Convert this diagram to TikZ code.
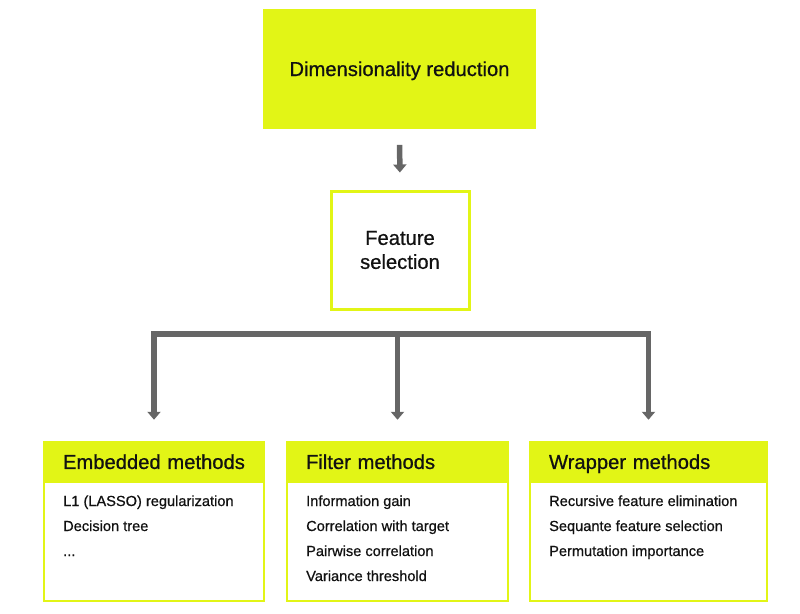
\documentclass[tikz,border=0pt]{standalone}
\usepackage{fontspec}
\setmainfont{Liberation Sans}[RawFeature={embolden=0.7}]
\usetikzlibrary{arrows.meta,positioning}
\definecolor{lime}{HTML}{E2F516}
\definecolor{linkgray}{HTML}{666666}
\definecolor{ink}{HTML}{111111}
\tikzset{
  bigtext/.style={font=\fontsize{20.2}{24}\selectfont,text=ink},
  itemtext/.style={font=\fontsize{14.6}{25}\selectfont,text=ink,anchor=base west,inner sep=0pt},
  link/.style={draw=linkgray,line width=5.5pt,line cap=rect,-{Triangle[width=13pt,length=8pt]}},
  topbox/.style={fill=lime,minimum width=273pt,minimum height=120pt,bigtext,text height=14pt,text depth=0pt},
  featbox/.style={draw=lime,line width=3pt,minimum width=138pt,minimum height=118pt,bigtext,align=center},
  card/.style={draw=lime,line width=2.5pt,minimum height=159pt,inner sep=0pt},
  cardhead/.style={fill=lime,anchor=north,minimum height=42pt,inner xsep=20pt,inner ysep=0pt,
    text height=14pt,text depth=0pt,align=left,bigtext}
}
\begin{document}
\begin{tikzpicture}[x=1pt,y=-1pt]
  \useasboundingbox (0,0) rectangle (800,613);
  % top of the tree
  \node[topbox] (dim) at (399.5,69) {Dimensionality reduction};
  \node[featbox] (feat) at (400,250) {Feature\\selection};
  % the three method cards
  \node[card,minimum width=220pt] (emb) at (154,521.5) {};
  \node[card,minimum width=221pt] (filt) at (397.5,521.5) {};
  \node[card,minimum width=237pt] (wrp) at (648.5,521.5) {};
  \node[cardhead,text width=182pt] (embH) at (emb.north) {Embedded methods};
  \node[cardhead,text width=183pt] (filtH) at (filt.north) {Filter methods};
  \node[cardhead,text width=199pt] (wrpH) at (wrp.north) {Wrapper methods};
  \node[itemtext] (emb1) at (63,506) {L1 (LASSO) regularization};
  \node[itemtext] (emb2) at (63,531) {Decision tree};
  \node[itemtext] (emb3) at (63,556) {...};
  \node[itemtext] (filt1) at (306,506) {Information gain};
  \node[itemtext] (filt2) at (306,531) {Correlation with target};
  \node[itemtext] (filt3) at (306,556) {Pairwise correlation};
  \node[itemtext] (filt4) at (306,581) {Variance threshold};
  \node[itemtext] (wrp1) at (549,506) {Recursive feature elimination};
  \node[itemtext] (wrp2) at (549,531) {Sequante feature selection};
  \node[itemtext] (wrp3) at (549,556) {Permutation importance};
  % connectors
  \coordinate (split) at (400,334);
  \begin{scope}[shorten >=21pt]
    \draw[link] (dim.south) -- (feat.north) [shorten <=18.5pt,shorten >=17pt];
    \draw[link] (wrp.north |- split) -- (emb.north |- split) -- (emb.north);
    \draw[link] (filt.north |- split) -- (filt.north);
    \draw[link] (wrp.north |- split) -- (wrp.north);
  \end{scope}
\end{tikzpicture}
\end{document}
